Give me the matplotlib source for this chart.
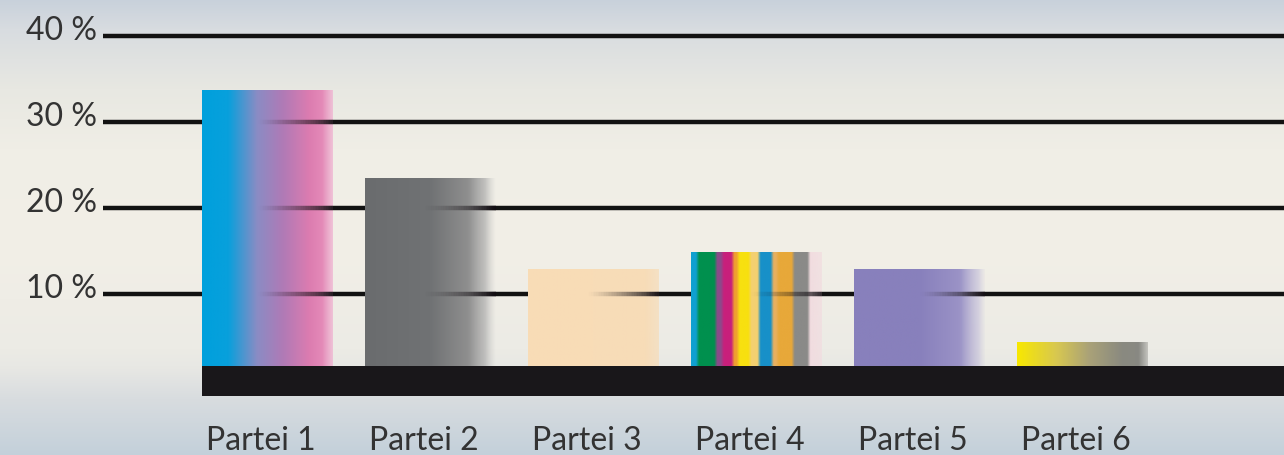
import numpy as np
import matplotlib
matplotlib.use("Agg")
import matplotlib.pyplot as plt
from matplotlib.colors import to_rgb
from matplotlib.collections import LineCollection

# data
parties = ["Partei 1", "Partei 2", "Partei 3", "Partei 4", "Partei 5", "Partei 6"]
shares = [33.7, 23.4, 12.9, 14.8, 12.9, 4.4]
grid_vals = [10, 20, 30, 40]
grid_labels = ["10 %", "20 %", "30 %", "40 %"]

FONT = ["Lato", "DejaVu Sans"]
BASE = 1.63        # top of the black base band (in %)
BAND_LOW = -1.85
BAR_W = 0.8
LINE_W = 3.2


def ramp(n, pos, vals):
    t = np.linspace(0, 1, n)
    return np.interp(t, np.asarray(pos, float), vals)


def gradient(n, cstops, astops):
    """cstops: [(pos, colour)], astops: [(pos, alpha)] -> (1, n, 4) image"""
    cp = [p for p, _ in cstops]
    cols = np.array([to_rgb(c) for _, c in cstops])
    img = np.zeros((1, n, 4))
    for k in range(3):
        img[0, :, k] = ramp(n, cp, cols[:, k])
    img[0, :, 3] = ramp(n, [p for p, _ in astops], [a for _, a in astops])
    return img


def stripes(n, edges, colours, astops):
    t = np.linspace(0, 1, n)
    img = np.zeros((1, n, 4))
    idx = np.clip(np.searchsorted(edges, t, side="right") - 1, 0, len(colours) - 1)
    rgb = np.array([to_rgb(c) for c in colours])[idx]
    kern = np.ones(7) / 7   # soften stripe borders
    for k in range(3):
        img[0, :, k] = np.convolve(np.pad(rgb[:, k], 3, mode="edge"), kern, mode="valid")
    img[0, :, 3] = ramp(n, [p for p, _ in astops], [a for _, a in astops])
    return img


N = 300
bar_imgs = [
    gradient(N, [(0, "#00a0dc"), (0.2, "#08a0dc"), (0.42, "#8a8cc4"),
                 (0.62, "#b07ab6"), (0.82, "#dc7cb0"), (0.92, "#e48ab8"), (1.0, "#f0b4d2")],
             [(0, 1), (0.92, 1), (1.0, 0.75)]),
    gradient(N, [(0, "#6a6c6e"), (0.5, "#707274"), (0.78, "#8e8e8e"), (0.9, "#a8a8a8"),
                 (1.0, "#c8c8c8")],
             [(0, 1), (0.8, 1), (0.92, 0.7), (1.0, 0.0)]),
    gradient(N, [(0, "#f9dcb6"), (1.0, "#f7dcb8")],
             [(0, 1), (0.9, 1), (1.0, 0.7)]),
    stripes(N, [0, 0.05, 0.19, 0.24, 0.32, 0.36, 0.45, 0.52, 0.62, 0.66, 0.78, 0.9],
            ["#10a0d0", "#00904e", "#8c4a8a", "#c8207c", "#f0a030", "#f8e010",
             "#f4d070", "#1890c8", "#e8b060", "#e8a83a", "#8a8a88", "#f2dce0"],
            [(0, 1), (0.9, 1), (1.0, 0.7)]),
    gradient(N, [(0, "#8880bc"), (0.5, "#8880bc"), (0.8, "#9a92c6"), (1.0, "#c8c4de")],
             [(0, 1), (0.82, 1), (0.95, 0.55), (1.0, 0.1)]),
    gradient(N, [(0, "#f8e800"), (0.3, "#d8c850"), (0.55, "#aaa278"), (0.8, "#8a8a80"),
                 (1.0, "#888884")],
             [(0, 1), (0.93, 1), (1.0, 0.4)]),
]
# how the grid line shows through each bar: (start fraction, end alpha)
line_show = [(0.42, 0.9), (0.45, 0.95), (0.45, 0.95), (0.45, 0.8), (0.5, 0.9), (0.5, 0.9)]

fig = plt.figure(figsize=(12.84, 4.56), dpi=100)
ax = fig.add_axes([0, 0, 1, 1])

x0, x1 = -1.641, 6.236
y0, y1 = -8.72, 44.3

# background: vertical gradient (pixel rows from the top of the picture)
bg_pos = [0, 30, 90, 150, 250, 350, 367, 400, 456]
bg_col = ["#c8d1db", "#d8dce0", "#e8e8e2", "#f0eee6", "#f2efe7", "#ecebe5",
          "#e8e8e4", "#d8dcdf", "#c3d0da"]
bgc = np.array([to_rgb(c) for c in bg_col])
bg = np.zeros((456, 1, 3))
for k in range(3):
    bg[:, 0, k] = np.interp(np.arange(456), bg_pos, bgc[:, k])
ax.imshow(bg, extent=(x0, x1, y0, y1), aspect="auto", zorder=0,
          interpolation="bilinear")

# grid lines
ax.hlines(grid_vals, -1.01, x1 + 0.1, color="#121212", lw=LINE_W, zorder=1)
for v, lab in zip(grid_vals, grid_labels):
    ax.text(-1.045, v - 0.35, lab, ha="right", va="baseline", fontsize=23,
            color="#333333", family=FONT)

# bars
for i, (v, img) in enumerate(zip(shares, bar_imgs)):
    ax.imshow(img, extent=(i - BAR_W / 2, i + BAR_W / 2, BASE, v),
              aspect="auto", interpolation="bilinear", zorder=2)
    # grid lines fading in across the right part of the bar
    start, amax = line_show[i]
    xs = np.linspace(i - BAR_W / 2, i + BAR_W / 2, 80)
    frac = (xs[:-1] - xs[0]) / BAR_W
    alpha = np.clip((frac - start) / (1 - start), 0, 1) ** 1.3 * amax
    for g in grid_vals:
        if g < v:
            segs = [[(xs[j], g), (xs[j + 1], g)] for j in range(len(xs) - 1)]
            cols = [(0.07, 0.05, 0.07, a) for a in alpha]
            ax.add_collection(LineCollection(segs, colors=cols, linewidths=LINE_W,
                                             capstyle="butt", zorder=2.5))

# black base band
ax.fill_between([-BAR_W / 2, x1 + 0.1], BAND_LOW, BASE, color="#19171a",
                lw=0, zorder=3)

for i, name in enumerate(parties):
    ax.text(i - 0.04, -8.0, name, ha="center", va="baseline", fontsize=23,
            color="#333333", family=FONT)

ax.set_xlim(x0, x1)
ax.set_ylim(y0, y1)
ax.set_aspect("auto")
ax.axis("off")

fig.savefig("out.png", dpi=100)
